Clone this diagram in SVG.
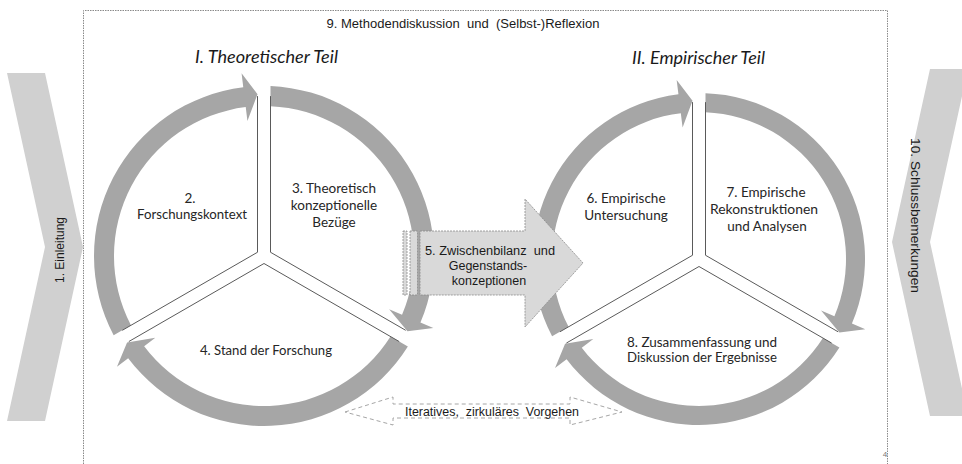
<svg xmlns="http://www.w3.org/2000/svg" width="962" height="464" viewBox="0 0 962 464">
<style>
.chev{fill:#d0d0d0}
.arc{fill:#a6a6a6}
.ln{stroke:#5a5a5a;stroke-width:1;fill:none}
.frame{stroke:#8a8a8a;stroke-width:1;fill:none;stroke-dasharray:1.5 1}
.cal{font-family:Lato,"Open Sans","DejaVu Sans",sans-serif;font-size:13.5px;fill:#262626;text-anchor:middle}
.ttl{font-family:Lato,"Open Sans","DejaVu Sans",sans-serif;font-size:17px;font-style:italic;fill:#1a1a1a;text-anchor:middle}
.ari{font-family:"Liberation Sans",Arial,sans-serif;font-size:12.5px;fill:#1a1a1a;text-anchor:middle;white-space:pre}
.box{fill:#d9d9d9;stroke:#8c8c8c;stroke-width:0.8;stroke-dasharray:2 1}
.dash{fill:#ffffff;stroke:#a6a6a6;stroke-width:1;stroke-dasharray:4 3}
</style>

<g id="frame">
<path class="frame" d="M83.5,464 V10.5 H887.5 V464"/>
<text class="ari" x="463" y="28" textLength="273" lengthAdjust="spacingAndGlyphs">9. Methodendiskussion  und  (Selbst-)Reflexion</text>
<text x="885" y="457" font-family="Liberation Sans,Arial,sans-serif" font-size="8" fill="#777" text-anchor="middle">4</text>
</g>

<g id="einleitung">
<polygon class="chev" points="7,73 45,73 83,247 45,421 7,421 45,247"/>
<text class="ari" transform="translate(63.5,250) rotate(-90)" x="0" y="0" style="font-size:12px" textLength="66" lengthAdjust="spacingAndGlyphs">1. Einleitung</text>
</g>

<g id="schluss">
<polygon class="chev" points="930,69 968,69 930,242 968,416 930,416 892,242"/>
<text class="ari" transform="translate(911,215.5) rotate(90)" x="0" y="0" textLength="155" lengthAdjust="spacingAndGlyphs">10. Schlussbemerkungen</text>
</g>

<g id="title-theorie">
<text class="ttl" x="266.5" y="63" textLength="143" lengthAdjust="spacingAndGlyphs">I. Theoretischer Teil</text>
</g>
<g id="title-empirie">
<text class="ttl" x="698.5" y="64" textLength="133" lengthAdjust="spacingAndGlyphs">II. Empirischer Teil</text>
</g>

<g id="connectors">
<path class="arc" d="M130.96,325.32 L113.63,335.32 A170,170 0 0 1 243.28,87.27 L241.58,73.37 L257.5,94.13 L247.43,121.01 L245.72,107.12 A150,150 0 0 0 130.96,325.32 Z"/>
<path class="arc" d="M270.49,106.14 L270.5,86.12 A170,170 0 0 1 420.44,322.53 L433.33,328.01 L407.43,331.30 L389.15,309.23 L402.04,314.71 A150,150 0 0 0 270.49,106.14 Z"/>
<path class="arc" d="M390.54,336.55 L407.87,346.57 A170,170 0 0 1 128.16,358.22 L116.98,366.64 L127.07,342.56 L155.33,337.78 L144.15,346.19 A150,150 0 0 0 390.54,336.55 Z"/>
<path class="arc" d="M568.57,326.80 L552.10,336.31 A166,166 0 0 1 678.45,94.28 L676.66,79.89 L692.50,100.63 L682.60,127.52 L680.81,113.13 A147,147 0 0 0 568.57,326.80 Z"/>
<path class="arc" d="M705.50,112.14 L705.50,93.13 A166,166 0 0 1 851.93,323.57 L865.29,329.21 L839.40,332.55 L821.07,310.54 L834.42,316.18 A147,147 0 0 0 705.50,112.14 Z"/>
<path class="arc" d="M822.93,338.05 L839.40,347.57 A166,166 0 0 1 566.60,359.13 L555.04,367.88 L565.09,343.80 L593.32,338.93 L581.76,347.67 A147,147 0 0 0 822.93,338.05 Z"/>
<path class="ln" d="M257.5,96.13 V252.25 L122.30,330.30 M270.5,96.13 V252.25 L405.70,330.30 M128.80,341.56 L264,263.5 L399.20,341.56"/>
<path class="ln" d="M692.5,102.13 V255.25 L559.90,331.80 M705.5,102.13 V255.25 L838.10,331.80 M566.40,343.06 L699,266.5 L831.60,343.06"/>
</g>

<g id="n2">
<text class="cal" x="190" y="203">2.</text>
<text class="cal" x="192" y="219" textLength="110" lengthAdjust="spacingAndGlyphs">Forschungskontext</text>
</g>
<g id="n3">
<text class="cal" x="334" y="193">3. Theoretisch</text>
<text class="cal" x="334" y="210">konzeptionelle</text>
<text class="cal" x="334" y="227">Bezüge</text>
</g>
<g id="n4">
<text class="cal" x="266" y="354.5" textLength="132" lengthAdjust="spacingAndGlyphs">4. Stand der Forschung</text>
</g>

<g id="n5">
<rect class="box" x="403" y="231" width="4" height="64"/>
<rect class="box" x="410" y="231" width="7.5" height="64"/>
<polygon class="box" points="420,231 525,231 525,199 583,263 525,327 525,295 420,295"/>
<text class="ari" x="490" y="254.5" textLength="130" lengthAdjust="spacingAndGlyphs">5. Zwischenbilanz  und</text>
<text class="ari" x="488" y="270">Gegenstands-</text>
<text class="ari" x="489" y="285">konzeptionen</text>
</g>

<g id="n6">
<text class="cal" x="626" y="203">6. Empirische</text>
<text class="cal" x="626" y="220">Untersuchung</text>
</g>
<g id="n7">
<text class="cal" x="766" y="197">7. Empirische</text>
<text class="cal" x="764" y="214" textLength="108" lengthAdjust="spacingAndGlyphs">Rekonstruktionen</text>
<text class="cal" x="767" y="231">und Analysen</text>
</g>
<g id="n8">
<text class="cal" x="702" y="347" textLength="150" lengthAdjust="spacingAndGlyphs">8. Zusammenfassung und</text>
<text class="cal" x="702" y="362" textLength="150" lengthAdjust="spacingAndGlyphs">Diskussion der Ergebnisse</text>
</g>

<g id="iterativ">
<polygon class="dash" points="345,412 393,397 393,404 570,404 570,397 622,412 570,425 570,418 393,418 393,425"/>
<text class="ari" x="492" y="416" textLength="174" lengthAdjust="spacingAndGlyphs">Iteratives,  zirkuläres  Vorgehen</text>
</g>
</svg>
